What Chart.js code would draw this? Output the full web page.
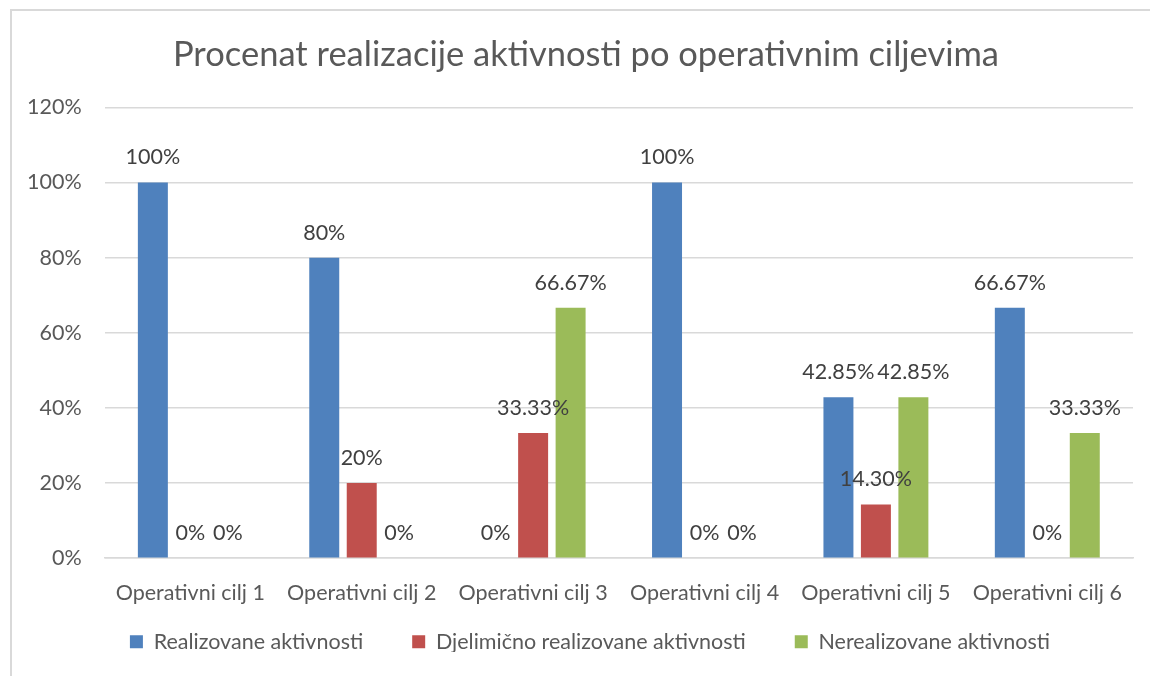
<!DOCTYPE html>
<html>
<head>
<meta charset="utf-8">
<script src="https://cdn.jsdelivr.net/npm/chart.js@4.4.1/dist/chart.umd.min.js"></script>
<style>
  body { margin: 0; background: #fff; }
  #wrap { position: relative; width: 1150px; height: 676px; overflow: hidden; }
  #frame { position: absolute; left: 10px; top: 9px; width: 1200px; height: 700px;
           border: 2px solid #d9d9d9; box-sizing: border-box; pointer-events: none; }
</style>
</head>
<body>
<div id="wrap">
  <canvas id="chart" width="1150" height="676"></canvas>
  <div id="frame"></div>
</div>
<script>
const categories = ['Operativni cilj 1', 'Operativni cilj 2', 'Operativni cilj 3',
                    'Operativni cilj 4', 'Operativni cilj 5', 'Operativni cilj 6'];
const realizovane = [100, 80, 0, 100, 42.85, 66.67];
const djelimicno = [0, 20, 33.33, 0, 14.30, 0];
const nerealizovane = [0, 0, 66.67, 0, 42.85, 33.33];
const seriesNames = ['Realizovane aktivnosti', 'Djelimično realizovane aktivnosti', 'Nerealizovane aktivnosti'];
const yTicks = [0, 20, 40, 60, 80, 100, 120];

const FONT = 'Lato, "Open Sans", sans-serif';
const FS = 21.5;

// data label text, 14.30 keeps its trailing zero like in the source
function fmt(v) {
  if (v === 14.30) return '14.30%';
  return (Number.isInteger(v) ? v : v.toFixed(2)) + '%';
}

const valueLabels = {
  id: 'valueLabels',
  afterDatasetsDraw(chart) {
    const c = chart.ctx;
    c.save();
    c.font = FS + 'px ' + FONT;
    c.fillStyle = '#404040';
    c.textAlign = 'center';
    c.textBaseline = 'middle';
    chart.data.datasets.forEach((ds, i) => {
      const meta = chart.getDatasetMeta(i);
      meta.data.forEach((bar, j) => {
        c.fillText(fmt(ds.data[j]), bar.x, bar.y - 25);
      });
    });
    c.restore();
  }
};

// wide gaps between legend items without the tall legend box,
// and title/legend nudged right like in the original frame
const legendFit = {
  id: 'legendFit',
  beforeUpdate(chart) {
    const lg = chart.legend;
    if (lg && !lg._patched) {
      const fit = lg.fit;
      lg.fit = function () { fit.call(this); this.height = 70; };
      lg._patched = true;
    }
  },
  afterLayout(chart) {
    const lg = chart.legend;
    lg.top -= 24;
    lg.bottom -= 24;
    lg.left += 10;
    lg.right += 10;
    const tb = chart.titleBlock;
    tb.left += 6;
    tb.right += 6;
  }
};

new Chart(document.getElementById('chart'), {
  type: 'bar',
  data: {
    labels: categories,
    datasets: [
      { label: seriesNames[0], data: realizovane, backgroundColor: '#4F81BD' },
      { label: seriesNames[1], data: djelimicno, backgroundColor: '#C0504D' },
      { label: seriesNames[2], data: nerealizovane, backgroundColor: '#9BBB59' }
    ]
  },
  options: {
    responsive: false,
    animation: false,
    datasets: {
      bar: { categoryPercentage: 0.656, barPercentage: 0.8 }
    },
    layout: {
      padding: { left: 27, right: 17, top: 0, bottom: 0 }
    },
    scales: {
      x: {
        grid: { display: true, drawOnChartArea: false, drawTicks: true, tickLength: 22, tickColor: 'rgba(0,0,0,0)' },
        border: { color: '#d9d9d9', width: 1.5 },
        ticks: { color: '#595959', font: { family: FONT, size: FS }, padding: 0, maxRotation: 0, autoSkip: false }
      },
      y: {
        min: 0,
        max: 120,
        afterBuildTicks(axis) { axis.ticks = yTicks.map(v => ({ value: v })); },
        grid: { color: '#d9d9d9', lineWidth: 1.5, drawTicks: true, tickLength: 23, tickColor: 'rgba(0,0,0,0)' },
        border: { display: false },
        ticks: {
          color: '#595959',
          font: { family: FONT, size: FS },
          padding: 0,
          callback: v => v + '%'
        }
      }
    },
    plugins: {
      title: {
        display: true,
        text: 'Procenat realizacije aktivnosti po operativnim ciljevima',
        color: '#595959',
        font: { family: FONT, size: 34.5, weight: 'normal' },
        padding: { top: 34, bottom: 32 }
      },
      legend: {
        position: 'bottom',
        labels: {
          color: '#595959',
          font: { family: FONT, size: FS },
          boxWidth: 13,
          boxHeight: 13,
          padding: 49
        }
      },
      tooltip: { enabled: false }
    }
  },
  plugins: [valueLabels, legendFit]
});
</script>
</body>
</html>
